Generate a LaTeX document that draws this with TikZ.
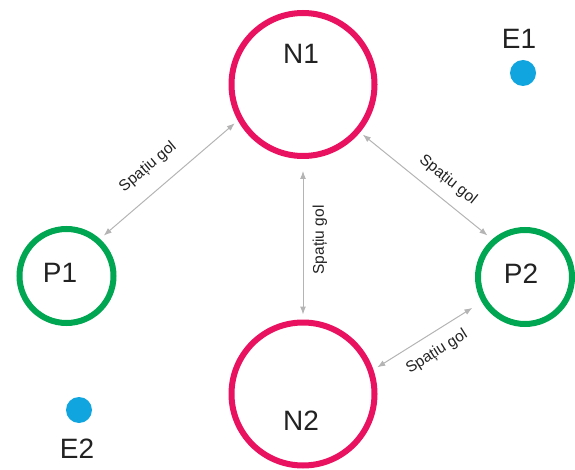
\documentclass[tikz,border=0pt]{standalone}
\usepackage{fontspec}
\setmainfont{Liberation Sans}
\usetikzlibrary{arrows.meta}
\definecolor{pinkc}{RGB}{232,18,96}
\definecolor{greenc}{RGB}{0,166,81}
\definecolor{bluec}{RGB}{17,165,224}
\definecolor{grayc}{RGB}{180,180,180}
\definecolor{txtc}{RGB}{34,34,34}
\begin{document}
\begin{tikzpicture}[x=1pt,y=-1pt,
  bigcirc/.style={circle,draw=pinkc,line width=6pt,minimum size=143pt,inner sep=0pt},
  smallcirc/.style={circle,draw=greenc,line width=6pt,minimum size=94pt,inner sep=0pt},
  bdot/.style={circle,fill=bluec,minimum size=26pt,inner sep=0pt},
  lbl/.style={text=txtc,font=\fontsize{28}{30}\selectfont,inner sep=0pt},
  gaplbl/.style={text=txtc,font=\fontsize{15.5}{17}\selectfont,inner sep=0pt},
  link/.style={draw=grayc,line width=1pt,{Latex[length=8pt,width=6pt]}-{Latex[length=8pt,width=6pt]}}]
\useasboundingbox (0,0) rectangle (575,470);
\node[bigcirc] (N1) at (303,84.5) {};
\node[bigcirc] (N2) at (303,394) {};
\node[smallcirc] (P1) at (66.5,276) {};
\node[smallcirc] (P2) at (525,277) {};
\node[bdot] (E1) at (523,73) {};
\node[bdot] (E2) at (79,410) {};
\node[lbl] (tN1) at (301,54) {N1};
\node[lbl] (tN2) at (301,421) {N2};
\node[lbl] (tP1) at (60,273) {P1};
\node[lbl] (tP2) at (521,274) {P2};
\node[lbl] (tE1) at (519,39) {E1};
\node[lbl] (tE2) at (77,449) {E2};
\draw[link,shorten <=4pt,shorten >=5pt] (N1.209) -- (P1.48);
\draw[link,shorten <=12pt,shorten >=5pt] (N1.south) -- (N2.north);
\draw[link,shorten <=3.5pt,shorten >=6pt] (N1.320) -- (P2.131);
\draw[link,shorten <=4.5pt,shorten >=11pt] (N2.19) -- (P2.210);
\node[gaplbl,rotate=40] (g1) at (148,167) {Spațiu gol};
\node[gaplbl,rotate=90] (g2) at (320,240) {Spațiu gol};
\node[gaplbl,rotate=-39] (g3) at (448,180) {Spațiu gol};
\node[gaplbl,rotate=32] (g4) at (437,352) {Spațiu gol};
\end{tikzpicture}
\end{document}
